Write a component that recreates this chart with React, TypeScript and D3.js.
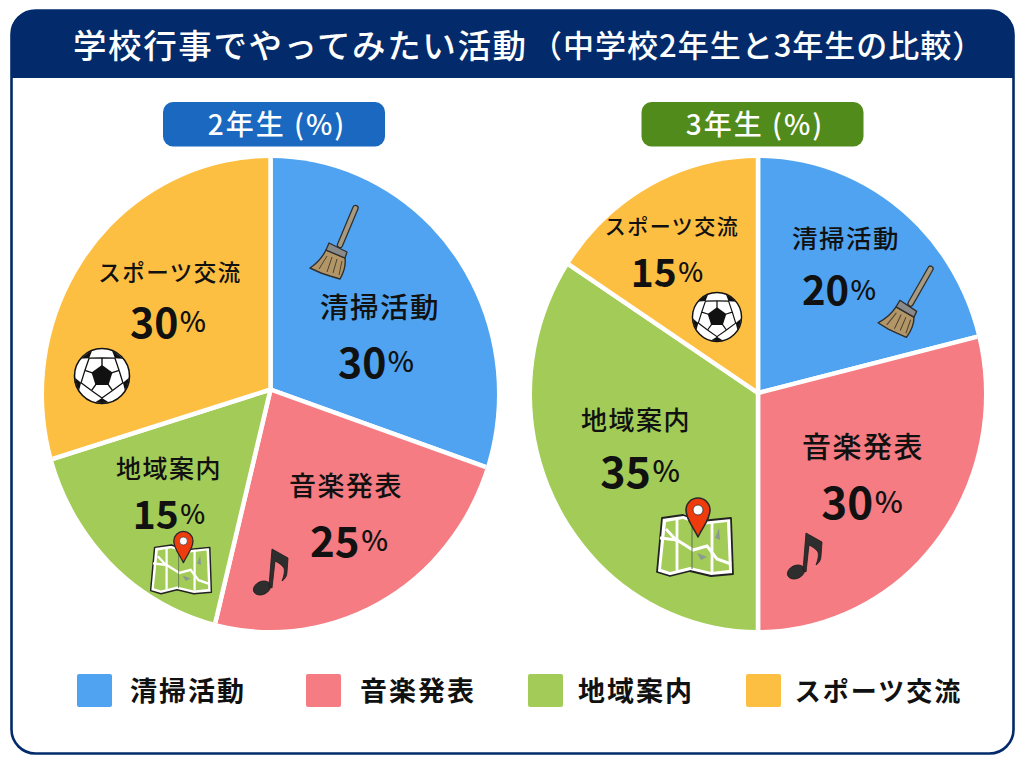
import React from "react";
import * as d3 from "d3";

const titleMain = "学校行事でやってみたい活動";
const titleSub = "（中学校2年生と3年生の比較）";
const activities = ["清掃活動", "音楽発表", "地域案内", "スポーツ交流"];
// Percentages printed in the picture
const grade2Values = [30, 25, 15, 30];
const grade3Values = [20, 30, 35, 15];
// Slice sizes as actually drawn in the picture (they differ slightly from the printed labels)
const grade2Drawn = [30.5, 23.2, 16.4, 29.9];
const grade3Drawn = [21.0, 29.0, 34.5, 15.5];
const gradeTitles = ["2年生 (%)", "3年生 (%)"];

const sliceColors = ["#4fa3f0", "#f47c82", "#a3cb57", "#fdbf42"];
const FONT = '"Noto Sans CJK JP", "Noto Sans", sans-serif';
const NAVY = "#032b6b";
const INK = "#111111";

const pieShapes = [
  { id: "pieL", ax: 270.5, ay: 389.5, cx: 270.5, cy: 394, rx: 226.5, ry: 236 },
  { id: "pieR", ax: 758, ay: 393, cx: 758, cy: 394, rx: 226, ry: 236 },
];

type Spot = { nx: number; ny: number; ns: number; vx: number; vy: number; vs: number };
const spots2: Spot[] = [
  { nx: 380, ny: 305, ns: 28.5, vx: 376, vy: 360, vs: 41 },
  { nx: 346, ny: 484, ns: 27, vx: 349, vy: 538, vs: 42 },
  { nx: 169, ny: 467, ns: 25, vx: 169, vy: 512, vs: 39 },
  { nx: 170, ny: 271, ns: 22.5, vx: 168, vy: 320, vs: 41 },
];
const spots3: Spot[] = [
  { nx: 846, ny: 236, ns: 25.5, vx: 839, vy: 288, vs: 40 },
  { nx: 863, ny: 445, ns: 29, vx: 862, vy: 500, vs: 44 },
  { nx: 636, ny: 418, ns: 26, vx: 640, vy: 469, vs: 43 },
  { nx: 672, ny: 225, ns: 21, vx: 667, vy: 270, vs: 39 },
];
const legendSwatchX = [77, 306, 528, 746];
const legendTextX = [188, 418, 636, 878.5];
const legendSizes = [27, 27, 27, 26];

function Broom({ x, y, rotate = 0 }: { x: number; y: number; rotate?: number }) {
  return (
    <g transform={`translate(${x},${y}) rotate(${rotate})`}>
      <path d="M20.5,-34 L5,3" stroke="#2f2f2d" strokeWidth={6.5} strokeLinecap="round" />
      <path d="M20.5,-34 L5,3" stroke="#a89a80" strokeWidth={4} strokeLinecap="round" />
      <path d="M-9,8 C-13,16 -19,22 -25,26 L-14,31 L-5,34 L5,37 C9,30 11,23 10,16 Z"
        fill="#b29668" stroke="#2f2f2d" strokeWidth={1.4} strokeLinejoin="round" />
      <path d="M-6,1 L12,10 L10,16 L-9,8 Z" fill="#8a8a8a" stroke="#2f2f2d" strokeWidth={1.3} strokeLinejoin="round" />
      <path d="M-8,14 L-16,27 M-3,15 L-8,30 M2,17 L-2,31 M7,19 L4,33" stroke="#4f4430" strokeWidth={1} fill="none" />
    </g>
  );
}

function Ball({ x, y, r, id }: { x: number; y: number; r: number; id: string }) {
  const angles = d3.range(5).map((i) => (-90 + i * 72) * (Math.PI / 180));
  const pt = (a: number, k: number) => `${Math.cos(a) * k},${Math.sin(a) * k}`;
  return (
    <g transform={`translate(${x},${y}) scale(${r / 28})`}>
      <circle r={27.5} fill="#fff" stroke="#111" strokeWidth={1.6} />
      <clipPath id={id}><circle r={27} /></clipPath>
      <g clipPath={`url(#${id})`}>
        {angles.map((a, i) => (
          <g key={i}>
            <path d={`M${pt(a, 10)} L${pt(a, 18)}`} stroke="#111" strokeWidth={1.4} />
            <path d={`M${pt(a + 0.63, 22)} L${pt(a + 0.32, 29)} L${pt(a + 0.63, 31)} L${pt(a + 0.94, 29)} Z`} fill="#111" />
            <path d={`M${pt(a, 18)} L${pt(a + 0.63, 22)} L${pt(a + 1.26, 18)}`} stroke="#111" strokeWidth={1.3} fill="none" />
          </g>
        ))}
        <polygon points={angles.map((a) => pt(a, 11)).join(" ")} fill="#111" />
      </g>
    </g>
  );
}

function MapIcon({ x, y, scale = 1 }: { x: number; y: number; scale?: number }) {
  return (
    <g transform={`translate(${x},${y}) scale(${scale})`}>
      <path d="M-33,-27 L-12,-30 L6,-24 L36,-27 L38,29 L16,31 L-5,26 L-25,31 L-38,27 Z"
        fill="#fff" stroke="#222" strokeWidth={1.8} strokeLinejoin="round" />
      <path d="M-29,-23 L-12,-26 L6,-20 L32,-23 L34,25 L16,27 L-5,22 L-25,27 L-34,24 Z" fill="#a3cb57" />
      <path d="M-35,-7 L-18,-5 L-2,5 L12,1 L22,14 L36,19" stroke="#fff" strokeWidth={3} fill="none" />
      <path d="M-18,-26 L-18,27 M17,-24 L17,27 M-29,-16 L-18,-4" stroke="#fff" strokeWidth={2.8} fill="none" />
      <path d="M-3,-22 L-3,24" stroke="#5f7050" strokeWidth={1} />
      <path d="M20,-7 L24,-17 L25,-5 Z M2,8 L12,12 L6,15 Z" fill="#8a9a90" />
      <path d="M3,-8 C-3,-20 -9,-26 -9,-35 A12,12 0 1 1 15,-35 C15,-26 9,-20 3,-8 Z"
        fill="#ee3c0c" stroke="#2a2a2a" strokeWidth={1.6} strokeLinejoin="round" />
      <circle cx={3} cy={-35} r={5} fill="#fff" stroke="#333" strokeWidth={0.8} />
    </g>
  );
}

function Note({ x, y }: { x: number; y: number }) {
  return (
    <g transform={`translate(${x},${y})`} fill="#2e2e2e" stroke="#1c1c1c" strokeWidth={0.8} strokeLinejoin="round">
      <ellipse cx={-9} cy={20} rx={9} ry={6.5} transform="rotate(-25 -9 20)" />
      <path d="M-2,18 L1,-19 L17,-10 L16,4 C16,8 14,11 11,13 C13,8 14,3 13,0 C11,-3 8,-5 4,-7 L1,20 Z" />
    </g>
  );
}

function Pie({ drawn, labels, shape, spots }: { drawn: number[]; labels: number[]; shape: typeof pieShapes[number]; spots: Spot[] }) {
  const arcs = d3.pie<number>().sort(null)(drawn);
  const arc = d3.arc<d3.PieArcDatum<number>>().innerRadius(0).outerRadius(320);
  return (
    <g>
      <clipPath id={shape.id}>
        <ellipse cx={shape.cx} cy={shape.cy} rx={shape.rx} ry={shape.ry} />
      </clipPath>
      <g clipPath={`url(#${shape.id})`}>
        <g transform={`translate(${shape.ax},${shape.ay})`}>
          {arcs.map((a, i) => (
            <path key={i} d={arc(a) as string} fill={sliceColors[i]} stroke="#fff" strokeWidth={4.5} strokeLinejoin="round" />
          ))}
        </g>
      </g>
      {labels.map((v, i) => (
        <g key={i} fontFamily={FONT} fill={INK} textAnchor="middle" dominantBaseline="central">
          <text x={spots[i].nx} y={spots[i].ny} fontSize={spots[i].ns} fontWeight={500} letterSpacing={1.5}>{activities[i]}</text>
          <text x={spots[i].vx} y={spots[i].vy} fontSize={spots[i].vs} fontWeight={700}>
            {v}<tspan fontSize={spots[i].vs * 0.68} fontWeight={500} dx={1.5}>%</tspan>
          </text>
        </g>
      ))}
    </g>
  );
}

export default function App() {
  return (
    <svg width={1024} height={768} viewBox="0 0 1024 768" style={{ position: "absolute", left: 0, top: 0, display: "block", background: "#fff" }}>
      <rect x={11.5} y={10.5} width={1002} height={743} rx={24} fill="#fff" stroke={NAVY} strokeWidth={2.6} />
      <path d="M11,78 L11,34 A24,24 0 0 1 35,10 L990,10 A24,24 0 0 1 1014,34 L1014,78 Z" fill={NAVY} />
      <g fill="#fff" fontFamily={FONT} fontWeight={500} dominantBaseline="central">
        <text x={73} y={43} fontSize={33.5} letterSpacing={1.6}>{titleMain}</text>
        <text x={531} y={43} fontSize={31} letterSpacing={1}>{titleSub}</text>
      </g>

      <rect x={163} y={102} width={222} height={44.5} rx={10} fill="#1a68c0" />
      <text x={277} y={122.5} fill="#fff" fontFamily={FONT} fontSize={28} fontWeight={500} textAnchor="middle" dominantBaseline="central" letterSpacing={2}>{gradeTitles[0]}</text>
      <rect x={641.5} y={102} width={222} height={44.5} rx={10} fill="#518b1b" />
      <text x={755} y={122.5} fill="#fff" fontFamily={FONT} fontSize={28} fontWeight={500} textAnchor="middle" dominantBaseline="central" letterSpacing={2}>{gradeTitles[1]}</text>

      <Pie drawn={grade2Drawn} labels={grade2Values} shape={pieShapes[0]} spots={spots2} />
      <Pie drawn={grade3Drawn} labels={grade3Values} shape={pieShapes[1]} spots={spots3} />

      <Broom x={335} y={242} />
      <Broom x={906} y={300} rotate={7} />
      <Ball x={102} y={376} r={28} id="ballL" />
      <Ball x={717} y={317} r={25} id="ballR" />
      <MapIcon x={181} y={569} scale={0.8} />
      <MapIcon x={695} y={545} />
      <Note x={271} y={568} />
      <Note x={805} y={552} />

      {activities.map((name, i) => (
        <g key={name}>
          <rect x={legendSwatchX[i]} y={674} width={35} height={33} rx={2} fill={sliceColors[i]} />
          <text x={legendTextX[i]} y={689.5} fill={INK} fontFamily={FONT} fontSize={legendSizes[i]} fontWeight={700} textAnchor="middle" dominantBaseline="central" letterSpacing={2}>{name}</text>
        </g>
      ))}
    </svg>
  );
}
